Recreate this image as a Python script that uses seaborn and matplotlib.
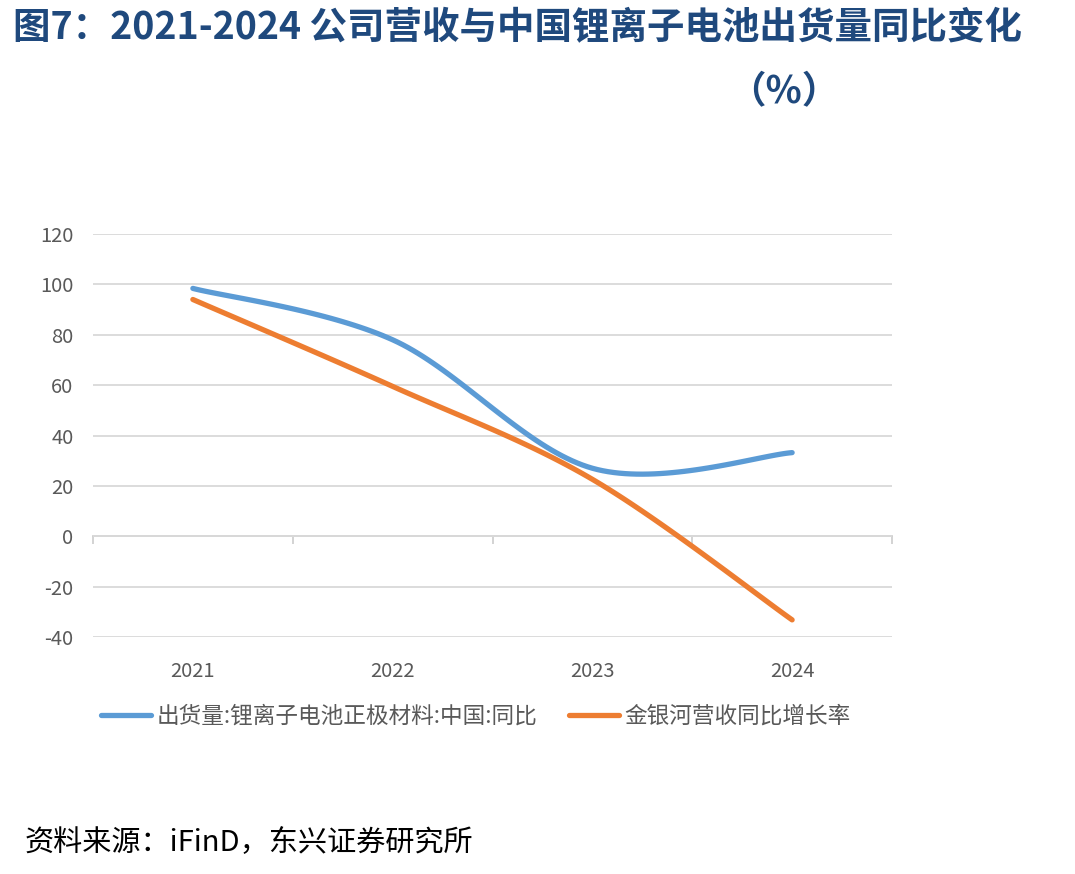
import numpy as np
import pandas as pd
import matplotlib
matplotlib.use('Agg')
import matplotlib.pyplot as plt
import seaborn as sns

##################################################################
#### data
##################################################################
years = ['2021', '2022', '2023', '2024']
shipment_yoy = [98.4, 78.0, 27.0, 33.2]      # 出货量:锂离子电池正极材料:中国:同比
revenue_yoy = [94.0, 59.5, 22.6, -33.2]      # 金银河营收同比增长率
series_names = ['出货量:锂离子电池正极材料:中国:同比', '金银河营收同比增长率']
y_ticks = [-40, -20, 0, 20, 40, 60, 80, 100, 120]

##################################################################
#### Excel-like smoothed line (Catmull-Rom through the points)
##################################################################
def smooth(vals, n=40):
    p = np.array(vals, dtype=float)
    x = np.arange(len(p), dtype=float)
    P = np.concatenate([[p[0]], p, [p[-1]]])
    X = np.concatenate([[x[0]], x, [x[-1]]])
    xs, ys = [], []
    t = np.linspace(0, 1, n)
    for i in range(1, len(P) - 2):
        for arr, out in ((X, xs), (P, ys)):
            p0, p1, p2, p3 = arr[i - 1], arr[i], arr[i + 1], arr[i + 2]
            out.extend(0.5 * ((2 * p1) + (-p0 + p2) * t
                              + (2 * p0 - 5 * p1 + 4 * p2 - p3) * t ** 2
                              + (-p0 + 3 * p1 - 3 * p2 + p3) * t ** 3))
    return np.array(xs), np.array(ys)

##################################################################
sns.set_style('white')
plt.rcParams['font.family'] = ['Noto Sans CJK SC', 'DejaVu Sans']
plt.rcParams['axes.unicode_minus'] = False

fig = plt.figure(figsize=[10.75, 8.74], dpi=100)
ax = fig.add_axes([93 / 1075, 1 - 637 / 874, (892 - 93) / 1075, (637 - 234) / 874])

blue, orange = '#5b9bd5', '#ed7d31'
for vals, col, name in ((shipment_yoy, blue, series_names[0]), (revenue_yoy, orange, series_names[1])):
    xs, ys = smooth(vals)
    df = pd.DataFrame({'x': xs, 'y': ys})
    sns.lineplot(data=df, x='x', y='y', ax=ax, color=col, lw=3.8, sort=False,
                 label=name, solid_capstyle='round')

ax.set_xlim(-0.5, 3.5)
ax.set_ylim(-40, 120)
ax.set_yticks(y_ticks)
ax.set_xticks(range(len(years)))
ax.set_xticklabels(years)
ax.set_xlabel('')
ax.set_ylabel('')
ax.grid(axis='y', color='#d9d9d9', lw=1.3)
ax.grid(axis='x', visible=False)
ax.set_axisbelow(True)
for s in ax.spines.values():
    s.set_visible(False)
ax.tick_params(axis='y', length=0, pad=14, labelsize=14.5, labelcolor='#595959')
ax.tick_params(axis='x', length=0, pad=17, labelsize=14.5, labelcolor='#595959')

# zero line with category boundary ticks
sec = ax.secondary_xaxis(0.25)
sec.set_xticks(np.arange(-0.5, len(years), 1.0))
sec.set_xticklabels([])
sec.tick_params(direction='out', length=6, width=1.3, color='#d0d0d0')
sec.spines['bottom'].set_color('#d0d0d0')
sec.spines['bottom'].set_linewidth(1.3)

ax.get_legend().remove()
h, l = ax.get_legend_handles_labels()
fig.legend(h, l, loc='center left', bbox_to_anchor=(101 / 1075, 1 - 716 / 874), ncol=2,
           frameon=False, fontsize=16.3, handlelength=2.2, handletextpad=0.25,
           columnspacing=1.4, borderpad=0, borderaxespad=0, labelcolor='#595959')

title_col = '#1f497d'
fig.text(13 / 1075, 1 - 28 / 874, '图7：2021-2024 公司营收与中国锂离子电池出货量同比变化',
         ha='left', va='center', fontsize=27, fontweight='bold', color=title_col)
fig.text(784 / 1075, 1 - 92 / 874, '（%）', ha='center', va='center',
         fontsize=27, fontweight='bold', color=title_col)
fig.text(25 / 1075, 1 - 843 / 874, '资料来源：iFinD，东兴证券研究所', ha='left', va='center',
         fontsize=21, style='italic', color='black')

plt.savefig('out.png', dpi=100)
